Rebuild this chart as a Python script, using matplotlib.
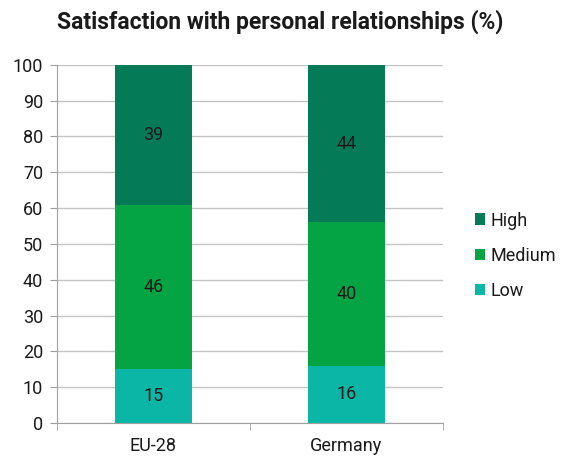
import matplotlib
matplotlib.use("Agg")
import matplotlib.pyplot as plt
import numpy as np

plt.rcParams['font.family'] = ['Roboto', 'DejaVu Sans']

countries = ['EU-28', 'Germany']
low = [15, 16]
medium = [46, 40]
high = [39, 44]

colors = {'Low': '#0cb6a6', 'Medium': '#04a445', 'High': '#057a57'}
ink = '#1a1a1a'

fig = plt.figure(figsize=(5.61, 4.58), dpi=100)
ax = fig.add_axes([0.1016, 0.0764, 0.688, 0.782])

x = np.arange(len(countries))
w = 0.4
b1 = ax.bar(x, low, w, color=colors['Low'], label='Low', zorder=3)
b2 = ax.bar(x, medium, w, bottom=low, color=colors['Medium'], label='Medium', zorder=3)
bottom2 = [a + b for a, b in zip(low, medium)]
b3 = ax.bar(x, high, w, bottom=bottom2, color=colors['High'], label='High', zorder=3)

# value labels centred in each segment
for bars, vals, bots in [(b1, low, [0, 0]), (b2, medium, low), (b3, high, bottom2)]:
    for rect, v, bt in zip(bars, vals, bots):
        ax.text(rect.get_x() + rect.get_width() / 2, bt + v / 2, str(v),
                ha='center', va='center', fontsize=13, color=ink, zorder=4)

ax.set_xlim(-0.5, 1.5)
ax.set_ylim(0, 100)
ax.set_yticks(range(0, 101, 10))
ax.set_xticks(x)
ax.set_xticklabels(countries)
ax.set_xticks([-0.5, 0.5, 1.5], minor=True)
ax.tick_params(axis='x', which='major', length=0, pad=10, labelsize=13, labelcolor=ink)
ax.tick_params(axis='x', which='minor', length=5, color='#a0a0a0')
ax.tick_params(axis='y', length=5, color='#a0a0a0', labelsize=13, labelcolor=ink, pad=5)

ax.yaxis.grid(True, color='#c4c4c4', lw=1, zorder=0)
ax.set_axisbelow(True)
for s in ['top', 'right']:
    ax.spines[s].set_visible(False)
for s in ['left', 'bottom']:
    ax.spines[s].set_color('#a0a0a0')

handles = [b3, b2, b1]
ax.legend(handles, ['High', 'Medium', 'Low'], loc='center left',
          bbox_to_anchor=(1.04, 0.467), frameon=False, fontsize=13,
          handlelength=0.6, handleheight=0.6, handletextpad=0.25,
          labelspacing=0.95, labelcolor=ink)

fig.text(0.5, 0.952, 'Satisfaction with personal relationships (%)',
         ha='center', va='center', fontsize=16.5, fontweight='bold', color=ink)

fig.savefig('out.png', dpi=100)
